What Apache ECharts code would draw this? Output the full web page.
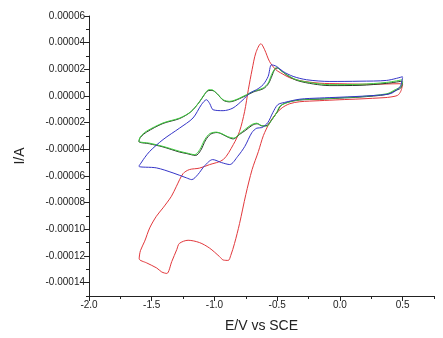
<!DOCTYPE html>
<html>
<head>
<meta charset="utf-8">
<script src="https://cdn.jsdelivr.net/npm/echarts@6/dist/echarts.min.js"></script>
<style>
  html, body { margin: 0; padding: 0; background: #fff; }
  #chart { width: 443px; height: 338px; }
</style>
</head>
<body>
<div id="chart"></div>
<script>
// potentials (V vs SCE) and currents (A), in scan order: cathodic 0.5 -> -1.6, then anodic back to 0.5
const redE = [0.5, 0.485, 0.46, 0.40, 0.36, 0.16, 0, -0.16, -0.32, -0.40, -0.46, -0.51, -0.56, -0.61, -0.65, -0.70, -0.75, -0.80, -0.84, -0.87, -0.89, -0.93, -0.96, -1.04, -1.12, -1.21, -1.28, -1.30, -1.34, -1.38, -1.42, -1.46, -1.54, -1.60,
  -1.59, -1.556, -1.516, -1.463, -1.41, -1.343, -1.303, -1.25, -1.20, -1.12, -1.04, -0.93, -0.85, -0.80, -0.76, -0.73, -0.70, -0.67, -0.63, -0.60, -0.56, -0.51, -0.46, -0.40, -0.32, -0.16, 0, 0.24, 0.48, 0.5]
const redI = [0.85e-5, 0.35e-5, 0.05e-5, -0.08e-5, -0.12e-5, -0.22e-5, -0.28e-5, -0.35e-5, -0.43e-5, -0.58e-5, -0.88e-5, -1.33e-5, -2.0e-5, -2.97e-5, -4.17e-5, -5.52e-5, -7.39e-5, -9.57e-5, -11.06e-5, -11.96e-5, -12.33e-5, -12.3e-5, -12.04e-5, -11.40e-5, -10.99e-5, -10.82e-5, -11.06e-5, -11.51e-5, -12.41e-5, -13.31e-5, -13.2e-5, -12.9e-5, -12.52e-5, -12.21e-5,
  -11.6e-5, -10.89e-5, -9.89e-5, -9.02e-5, -8.39e-5, -7.52e-5, -6.77e-5, -5.82e-5, -5.52e-5, -5.41e-5, -5.15e-5, -4.77e-5, -3.65e-5, -2.65e-5, -1.18e-5, 0.47e-5, 1.97e-5, 3.24e-5, 3.92e-5, 3.47e-5, 2.57e-5, 1.97e-5, 1.67e-5, 1.37e-5, 1.15e-5, 0.96e-5, 0.92e-5, 0.88e-5, 0.92e-5, 0.92e-5]

const blueE = [0.5, 0.485, 0.455, 0.40, 0.24, 0, -0.16, -0.32, -0.44, -0.495, -0.535, -0.575, -0.623, -0.662, -0.702, -0.758, -0.814, -0.878, -0.942, -1.014, -1.077, -1.133, -1.181, -1.223, -1.33, -1.463, -1.602,
  -1.58, -1.556, -1.516, -1.41, -1.277, -1.171, -1.104, -1.064, -1.037, -1.011, -0.931, -0.852, -0.772, -0.718, -0.665, -0.612, -0.572, -0.545, -0.505, -0.453, -0.373, -0.266, -0.08, 0.16, 0.373, 0.5]
const blueI = [1.4e-5, 0.8e-5, 0.47e-5, 0.17e-5, 0.02e-5, -0.09e-5, -0.15e-5, -0.24e-5, -0.48e-5, -0.65e-5, -1.25e-5, -2.0e-5, -2.37e-5, -2.41e-5, -2.75e-5, -3.78e-5, -4.52e-5, -5.14e-5, -5.0e-5, -4.77e-5, -5.22e-5, -5.9e-5, -6.27e-5, -6.14e-5, -5.77e-5, -5.39e-5, -5.27e-5,
  -4.95e-5, -4.62e-5, -4.15e-5, -3.27e-5, -2.4e-5, -1.65e-5, -0.65e-5, -0.28e-5, -0.58e-5, -1.03e-5, -1.1e-5, -0.9e-5, -0.28e-5, 0.22e-5, 0.47e-5, 0.85e-5, 1.47e-5, 2.34e-5, 2.22e-5, 1.84e-5, 1.47e-5, 1.22e-5, 1.09e-5, 1.11e-5, 1.17e-5, 1.45e-5]

const greenE = [0.5, 0.485, 0.44, 0.375, 0.16, 0, -0.16, -0.32, -0.42, -0.48, -0.505, -0.543, -0.583, -0.623, -0.665, -0.705, -0.758, -0.798, -0.846, -0.894, -0.942, -0.984, -1.037, -1.077, -1.117, -1.157, -1.223, -1.277, -1.41, -1.516, -1.602,
  -1.59, -1.543, -1.41, -1.277, -1.184, -1.117, -1.077, -1.045, -1.022, -0.984, -0.931, -0.878, -0.798, -0.692, -0.612, -0.572, -0.545, -0.519, -0.503, -0.479, -0.425, -0.346, -0.213, -0.08, 0.16, 0.373, 0.5]
const greenI = [1.1e-5, 0.7e-5, 0.47e-5, 0.17e-5, -0.05e-5, -0.13e-5, -0.22e-5, -0.28e-5, -0.5e-5, -0.78e-5, -1.27e-5, -1.78e-5, -2.26e-5, -2.22e-5, -2.04e-5, -2.15e-5, -2.52e-5, -2.82e-5, -3.16e-5, -3.05e-5, -2.82e-5, -2.71e-5, -2.82e-5, -3.27e-5, -4.02e-5, -4.4e-5, -4.27e-5, -4.15e-5, -3.78e-5, -3.54e-5, -3.39e-5,
  -3.05e-5, -2.65e-5, -2.02e-5, -1.65e-5, -1.15e-5, -0.4e-5, 0.17e-5, 0.47e-5, 0.47e-5, 0.22e-5, -0.28e-5, -0.4e-5, -0.15e-5, 0.34e-5, 0.6e-5, 0.97e-5, 1.6e-5, 2.04e-5, 2.16e-5, 1.97e-5, 1.6e-5, 1.22e-5, 0.97e-5, 0.85e-5, 0.88e-5, 1.02e-5, 1.22e-5]

const blackE = [0.5, 0.485, 0.44, 0.375, 0.16, 0, -0.16, -0.32, -0.42, -0.47, -0.50, -0.54, -0.58, -0.62, -0.66, -0.70, -0.75, -0.80, -0.85, -0.89, -0.94, -0.98, -1.03, -1.07, -1.11, -1.15, -1.22, -1.28, -1.41, -1.52, -1.602,
  -1.59, -1.54, -1.41, -1.28, -1.19, -1.12, -1.08, -1.05, -1.02, -0.98, -0.93, -0.88, -0.80, -0.69, -0.61, -0.57, -0.54, -0.52, -0.50, -0.47, -0.42, -0.34, -0.21, -0.08, 0.16, 0.373, 0.5]
const blackI = [1.0e-5, 0.6e-5, 0.4e-5, 0.12e-5, -0.08e-5, -0.16e-5, -0.24e-5, -0.3e-5, -0.48e-5, -0.72e-5, -1.2e-5, -1.75e-5, -2.2e-5, -2.25e-5, -2.08e-5, -2.2e-5, -2.56e-5, -2.88e-5, -3.22e-5, -3.1e-5, -2.86e-5, -2.74e-5, -2.86e-5, -3.3e-5, -4.08e-5, -4.46e-5, -4.32e-5, -4.2e-5, -3.82e-5, -3.58e-5, -3.42e-5,
  -3.1e-5, -2.7e-5, -2.06e-5, -1.7e-5, -1.2e-5, -0.45e-5, 0.1e-5, 0.4e-5, 0.42e-5, 0.18e-5, -0.32e-5, -0.44e-5, -0.2e-5, 0.3e-5, 0.55e-5, 0.92e-5, 1.55e-5, 2.0e-5, 2.1e-5, 1.92e-5, 1.55e-5, 1.16e-5, 0.9e-5, 0.78e-5, 0.8e-5, 0.95e-5, 1.12e-5]

const xMajor = [-2.0, -1.5, -1.0, -0.5, 0.0, 0.5]
const xMinor = [-1.75, -1.25, -0.75, -0.25, 0.25, 0.75]
const yMajor = [-0.00014, -0.00012, -0.0001, -0.00008, -0.00006, -0.00004, -0.00002, 0, 0.00002, 0.00004, 0.00006]
const yMinor = [-0.00015, -0.00013, -0.00011, -0.00009, -0.00007, -0.00005, -0.00003, -0.00001, 0.00001, 0.00003, 0.00005]

const pairs = (xs, ys) => xs.map((x, i) => [x, ys[i]])

const font = 'Liberation Sans, Arial, sans-serif'
const axisColor = '#222'

const baseX = {
  type: 'value', min: -2, max: 0.75, position: 'bottom',
  splitLine: { show: false }
}
const baseY = {
  type: 'value', min: -0.00015, max: 0.00006, position: 'left',
  splitLine: { show: false }
}

const option = {
  animation: false,
  backgroundColor: '#fff',
  grid: { left: 89, right: 9, top: 16, bottom: 42 },
  xAxis: [
    Object.assign({}, baseX, {
      name: 'E/V vs SCE', nameLocation: 'middle', nameGap: 23,
      nameTextStyle: { fontFamily: font, fontSize: 14, color: axisColor },
      axisLine: { show: true, onZero: false, lineStyle: { color: axisColor, width: 1 } },
      axisTick: { show: true, inside: false, length: 5, customValues: xMajor, lineStyle: { color: axisColor } },
      axisLabel: { customValues: xMajor, fontFamily: font, fontSize: 10, color: axisColor, margin: 4,
        formatter: v => v.toFixed(1) }
    }),
    Object.assign({}, baseX, {
      axisLine: { show: false, onZero: false },
      axisTick: { show: true, length: 3, customValues: xMinor, lineStyle: { color: axisColor } },
      axisLabel: { show: false }
    })
  ],
  yAxis: [
    Object.assign({}, baseY, {
      name: 'I/A', nameLocation: 'middle', nameGap: 62, nameRotate: 90,
      nameTextStyle: { fontFamily: font, fontSize: 14, color: axisColor },
      axisLine: { show: true, onZero: false, lineStyle: { color: axisColor, width: 1 } },
      axisTick: { show: true, length: 5, customValues: yMajor, lineStyle: { color: axisColor } },
      axisLabel: { customValues: yMajor, fontFamily: font, fontSize: 10, color: axisColor, margin: 4,
        formatter: v => (Math.abs(v) < 1e-12 ? 0 : v).toFixed(5) }
    }),
    Object.assign({}, baseY, {
      axisLine: { show: false, onZero: false },
      axisTick: { show: true, length: 3, customValues: yMinor, lineStyle: { color: axisColor } },
      axisLabel: { show: false }
    })
  ],
  series: [
    { name: 'red', data: pairs(redE, redI), color: '#e2383c' },
    { name: 'black', data: pairs(blackE, blackI), color: '#2a382a' },
    { name: 'green', data: pairs(greenE, greenI), color: '#3fcc3f' },
    { name: 'blue', data: pairs(blueE, blueI), color: '#3535c8' }
  ].map(s => ({
    name: s.name,
    type: 'line',
    data: s.data,
    showSymbol: false,
    smooth: 0.3,
    lineStyle: { color: s.color, width: 1 },
    itemStyle: { color: s.color }
  }))
}

const chart = echarts.init(document.getElementById('chart'))
chart.setOption(option)
</script>
</body>
</html>
